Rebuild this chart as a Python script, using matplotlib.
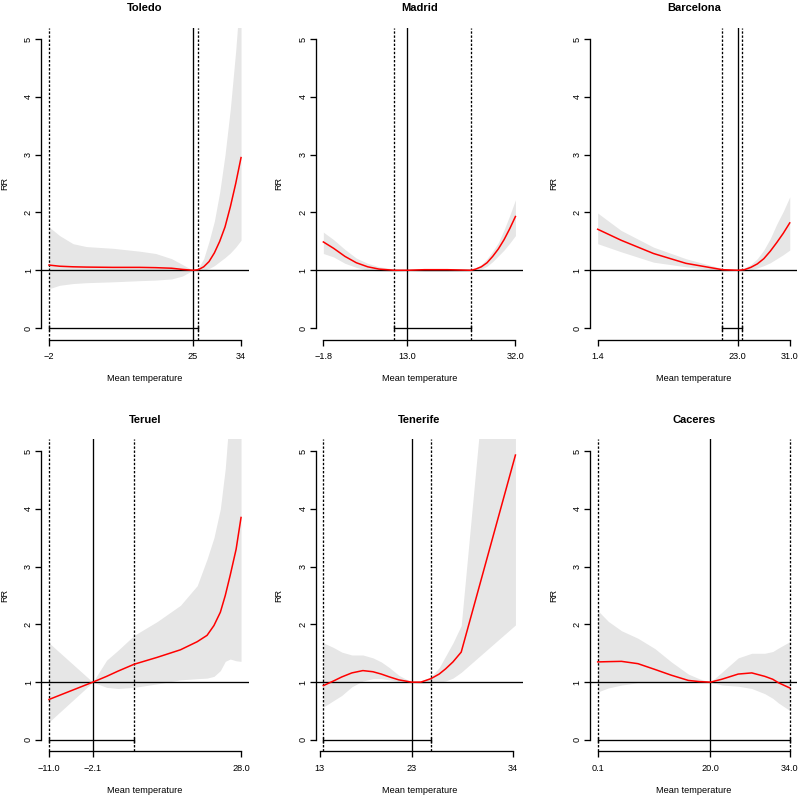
import numpy as np
import matplotlib
matplotlib.use("Agg")
import matplotlib.pyplot as plt

plt.rcParams['font.family'] = ['Liberation Sans', 'DejaVu Sans']

# Data: temperature, relative risk, 95% CI
toledo_t = [-2, 0, 2.5, 5, 10, 15, 18, 21, 23, 25, 26, 27, 28, 29, 30, 31, 32, 33, 34]
toledo_rr = [1.09, 1.07, 1.06, 1.055, 1.05, 1.05, 1.045, 1.035, 1.015, 1.0, 1.01, 1.06, 1.15, 1.3, 1.5, 1.75, 2.1, 2.5, 2.95]
toledo_lo = [0.68, 0.74, 0.77, 0.785, 0.80, 0.82, 0.83, 0.85, 0.9, 1.0, 0.99, 1.0, 1.03, 1.08, 1.15, 1.22, 1.3, 1.4, 1.52]
toledo_hi = [1.75, 1.6, 1.46, 1.41, 1.38, 1.33, 1.29, 1.2, 1.1, 1.0, 1.04, 1.2, 1.5, 1.85, 2.35, 3.0, 3.8, 4.8, 6.0]

madrid_t = [-1.8, 0, 2, 4, 6, 8, 10.7, 13, 16, 20, 24.2, 25, 26, 27, 28, 29, 30, 31, 32]
madrid_rr = [1.49, 1.38, 1.24, 1.13, 1.06, 1.02, 1.0, 1.0, 1.01, 1.01, 1.0, 1.02, 1.06, 1.13, 1.24, 1.37, 1.53, 1.72, 1.93]
madrid_lo = [1.29, 1.23, 1.12, 1.05, 1.0, 0.99, 0.98, 1.0, 0.98, 0.98, 0.99, 1.0, 1.02, 1.07, 1.15, 1.25, 1.35, 1.47, 1.6]
madrid_hi = [1.66, 1.53, 1.36, 1.21, 1.12, 1.06, 1.02, 1.0, 1.03, 1.03, 1.02, 1.04, 1.1, 1.2, 1.33, 1.48, 1.7, 1.95, 2.22]

barcelona_t = [1.4, 5, 10, 15, 20.6, 23, 24, 25, 26, 27, 28, 29, 30, 31]
barcelona_rr = [1.71, 1.52, 1.29, 1.12, 1.01, 1.0, 1.01, 1.05, 1.11, 1.2, 1.33, 1.48, 1.64, 1.82]
barcelona_lo = [1.46, 1.32, 1.14, 1.06, 0.99, 1.0, 0.99, 1.01, 1.04, 1.08, 1.13, 1.2, 1.27, 1.35]
barcelona_hi = [1.99, 1.69, 1.4, 1.2, 1.03, 1.0, 1.04, 1.1, 1.2, 1.35, 1.55, 1.8, 2.02, 2.27]

teruel_t = [-11, -2.1, 0.7, 3, 6.3, 11, 15.7, 19.1, 21.1, 22.5, 23.8, 24.8, 25.8, 27, 28]
teruel_rr = [0.70, 1.0, 1.10, 1.19, 1.31, 1.43, 1.56, 1.70, 1.81, 1.98, 2.21, 2.5, 2.85, 3.3, 3.85]
teruel_lo = [0.31, 1.0, 0.91, 0.89, 0.91, 0.97, 1.04, 1.06, 1.07, 1.1, 1.2, 1.36, 1.40, 1.37, 1.36]
teruel_hi = [1.68, 1.0, 1.38, 1.55, 1.81, 2.05, 2.33, 2.67, 3.13, 3.5, 4.0, 4.7, 5.8, 7.5, 9.0]

tenerife_t = [13.4, 14.5, 15.4, 16.5, 17.7, 18.8, 19.7, 20.6, 21.6, 23, 24, 25.1, 26, 26.7, 27.5, 28.4, 34.3]
tenerife_rr = [0.94, 1.02, 1.09, 1.16, 1.20, 1.18, 1.14, 1.09, 1.04, 1.0, 1.0, 1.06, 1.14, 1.23, 1.35, 1.52, 4.93]
tenerife_lo = [0.57, 0.68, 0.77, 0.92, 1.02, 1.06, 1.06, 1.04, 1.01, 1.0, 0.98, 0.99, 1.0, 1.02, 1.07, 1.17, 1.99]
tenerife_hi = [1.68, 1.6, 1.52, 1.47, 1.47, 1.42, 1.35, 1.25, 1.12, 1.0, 1.02, 1.09, 1.25, 1.45, 1.68, 1.98, 12.0]

caceres_t = [0.1, 2, 4.3, 7.2, 10.2, 13.1, 16.1, 18, 20, 22, 24.9, 27.3, 29.6, 31, 32, 34]
caceres_rr = [1.35, 1.355, 1.36, 1.32, 1.22, 1.12, 1.03, 1.01, 1.0, 1.05, 1.14, 1.16, 1.1, 1.05, 0.99, 0.9]
caceres_lo = [0.83, 0.9, 0.95, 0.99, 0.99, 0.99, 0.99, 1.0, 1.0, 0.95, 0.93, 0.89, 0.8, 0.72, 0.64, 0.51]
caceres_hi = [2.24, 2.05, 1.89, 1.76, 1.58, 1.35, 1.14, 1.06, 1.0, 1.17, 1.42, 1.5, 1.5, 1.53, 1.59, 1.70]

cities = ["Toledo", "Madrid", "Barcelona", "Teruel", "Tenerife", "Caceres"]
temps = [toledo_t, madrid_t, barcelona_t, teruel_t, tenerife_t, caceres_t]
rrs = [toledo_rr, madrid_rr, barcelona_rr, teruel_rr, tenerife_rr, caceres_rr]
lows = [toledo_lo, madrid_lo, barcelona_lo, teruel_lo, tenerife_lo, caceres_lo]
highs = [toledo_hi, madrid_hi, barcelona_hi, teruel_hi, tenerife_hi, caceres_hi]

# minimum mortality temperature and the dashed limits
mmt = [25, 13.0, 23.0, -2.1, 23, 20.0]
dash_lo = [-2, 10.7, 20.6, -11.0, 13.4, 0.1]
dash_hi = [26, 24.2, 23.6, 6.3, 25.1, 34.0]

xticks = [[-2, 25, 34], [-1.8, 13.0, 32.0], [1.4, 23.0, 31.0],
          [-11.0, -2.1, 28.0], [13, 23, 34], [0.1, 20.0, 34.0]]
xticklabels = [["\u22122", "25", "34"], ["\u22121.8", "13.0", "32.0"], ["1.4", "23.0", "31.0"],
               ["\u221211.0", "\u22122.1", "28.0"], ["13", "23", "34"], ["0.1", "20.0", "34.0"]]

fig = plt.figure(figsize=(8, 7.97), dpi=100)

lefts = [0.0516, 0.3946, 0.7375]
bottoms = [0.5739, 0.0571]
w, h = 0.2593, 0.3915
fs = 6.6

for i, city in enumerate(cities):
    ax = fig.add_axes([lefts[i % 3], bottoms[i // 3], w, h])
    t = np.array(temps[i])
    ax.fill_between(t, lows[i], highs[i], color="#E6E6E6", lw=0)
    ax.plot(t, rrs[i], color="red", lw=1.1, zorder=3)
    ax.axhline(1, color="black", lw=0.95)
    ax.axvline(mmt[i], color="black", lw=0.95)
    for d in (dash_lo[i], dash_hi[i]):
        ax.axvline(d, color="black", lw=0.95, ls=(0, (1.8, 1.3)))
    ax.plot([dash_lo[i], dash_hi[i]], [0, 0], color="black", lw=0.95,
            marker="|", ms=5, mew=0.95)

    span = t.max() - t.min()
    ax.set_xlim(t.min() - 0.04 * span, t.max() + 0.04 * span)
    ax.set_ylim(-0.2, 5.2)

    for s in ("top", "right"):
        ax.spines[s].set_visible(False)
    ax.spines["left"].set_bounds(0, 5)
    ax.spines["bottom"].set_bounds(xticks[i][0], xticks[i][-1])
    ax.spines["left"].set_linewidth(0.95)
    ax.spines["bottom"].set_linewidth(0.95)

    ax.set_yticks(range(6))
    ax.set_xticks(xticks[i])
    ax.set_xticklabels(xticklabels[i])
    ax.tick_params(axis="both", length=4, width=0.95, labelsize=fs)
    ax.tick_params(axis="x", pad=5)
    ax.tick_params(axis="y", labelrotation=90, pad=2)
    for lab in ax.get_yticklabels():
        lab.set_va("center")

    ax.set_title(city, fontsize=8, fontweight="bold", pad=12)
    ax.set_xlabel("Mean temperature", fontsize=fs)
    ax.xaxis.set_label_coords(0.5, -0.11)
    ax.set_ylabel("RR", fontsize=fs)
    ax.yaxis.set_label_coords(-0.155, 0.5)

fig.savefig("out.png", dpi=100)
